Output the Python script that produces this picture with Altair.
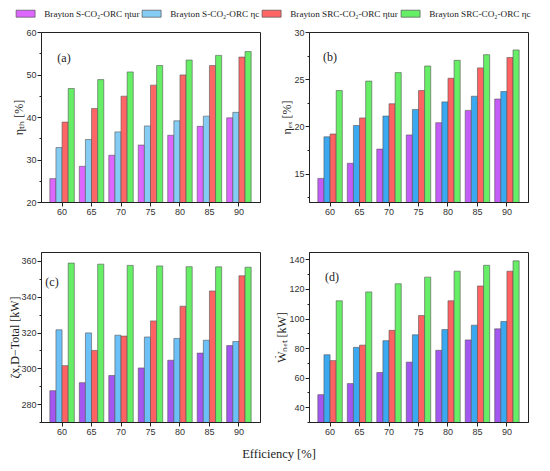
import altair as alt
import pandas as pd

eff = ["60", "65", "70", "75", "80", "85", "90"]
series = [
    "Brayton S-CO₂-ORC  ηtur",
    "Brayton S-CO₂-ORC  ηc",
    "Brayton SRC-CO₂-ORC  ηtur",
    "Brayton SRC-CO₂-ORC  ηc",
]

# (a) thermal efficiency [%]
a_s_tur = [25.5, 28.4, 31.0, 33.4, 35.7, 37.8, 39.8]
a_s_c = [32.8, 34.7, 36.5, 37.9, 39.1, 40.2, 41.1]
a_src_tur = [38.8, 42.0, 44.9, 47.5, 49.9, 52.1, 54.1]
a_src_c = [46.7, 48.8, 50.6, 52.1, 53.4, 54.5, 55.4]

# (b) exergy efficiency [%]
b_s_tur = [14.5, 16.1, 17.6, 19.1, 20.4, 21.7, 22.9]
b_s_c = [18.9, 20.1, 21.1, 21.8, 22.6, 23.2, 23.7]
b_src_tur = [19.2, 20.9, 22.4, 23.8, 25.1, 26.2, 27.3]
b_src_c = [23.8, 24.8, 25.7, 26.4, 27.0, 27.6, 28.1]

# (c) total exergy destruction [kW]
c_s_tur = [287.5, 292.0, 296.0, 300.2, 304.5, 308.5, 312.7]
c_s_c = [321.5, 319.8, 318.5, 317.5, 316.7, 315.7, 315.0]
c_src_tur = [301.5, 310.0, 318.0, 326.5, 334.7, 343.2, 351.7]
c_src_c = [358.8, 358.2, 357.5, 357.2, 356.8, 356.7, 356.5]

# (d) net power [kW]
d_s_tur = [48.5, 56.0, 63.5, 70.5, 78.5, 85.5, 93.0]
d_s_c = [75.5, 80.5, 85.0, 89.0, 92.5, 95.5, 98.0]
d_src_tur = [71.5, 82.0, 92.0, 102.0, 112.0, 122.0, 132.0]
d_src_c = [112.0, 118.0, 123.5, 128.0, 132.0, 136.0, 139.0]

# y ticks (major + minor) per panel
ticks_a = [20, 25, 30, 35, 40, 45, 50, 55, 60]
ticks_b = [12.5, 15, 17.5, 20, 22.5, 25, 27.5, 30]
ticks_c = [270, 280, 290, 300, 310, 320, 330, 340, 350, 360]
ticks_d = [30, 40, 50, 60, 70, 80, 90, 100, 110, 120, 130, 140]

colors_a = ["#dd66ff", "#85ccf5", "#ff6666", "#66ee66"]
colors_b = ["#c45cf7", "#3ba8f2", "#ff6262", "#66ee66"]
colors_c = ["#a357f0", "#6cc0f8", "#ff6262", "#66ee66"]
colors_d = ["#a357f0", "#3ba8f2", "#ff6262", "#66ee66"]

SERIF = "Liberation Serif"
SANS = "Liberation Sans"


def make_df(*vals):
    rows = []
    for s, v in zip(series, vals):
        for e, x in zip(eff, v):
            rows.append({"eff": e, "series": s, "value": x})
    return pd.DataFrame(rows)


def panel(df, colors, ytitle, domain, ticks, major, label, lx, ly, legend, tpad=0):
    test = f"datum.value % {major} === 0"
    bars = alt.Chart(df).mark_bar(stroke="#555555", strokeWidth=0.6, clip=True).encode(
        x=alt.X("eff:N", sort=eff,
                scale=alt.Scale(paddingInner=0.17, paddingOuter=0.3),
                axis=alt.Axis(title=None, labelAngle=0)),
        xOffset=alt.XOffset("series:N", sort=series,
                            scale=alt.Scale(domain=series, paddingInner=0, paddingOuter=0)),
        y=alt.Y("value:Q",
                scale=alt.Scale(domain=domain, nice=False, zero=False),
                axis=alt.Axis(values=ticks, title=ytitle, titlePadding=tpad,
                              labelExpr=f"{test} ? datum.label : ''",
                              tickSize={"condition": {"test": test, "value": 4},
                                        "value": 2})),
        color=alt.Color("series:N", scale=alt.Scale(domain=series, range=colors),
                        legend=legend),
    )
    txt = alt.Chart(pd.DataFrame({"t": [label]})).mark_text(
        font=SERIF, fontSize=12, align="center", baseline="middle", color="#222222"
    ).encode(x=alt.value(lx), y=alt.value(ly), text="t:N")
    return alt.layer(bars, txt).properties(width=219, height=170)


legend_a = alt.Legend(
    title=None, orient="none", legendX=-25, legendY=-23,
    direction="horizontal", columns=4,
    symbolType="M-4,-1.474H4V1.474H-4Z", symbolSize=22.56, symbolOffset=5,
    symbolStrokeColor="#555555", symbolStrokeWidth=0.7, symbolOpacity=1,
    labelFont=SERIF, labelFontSize=9.2, labelColor="#222222",
    labelLimit=300, columnPadding=-3, labelOffset=14,
)

pa = panel(make_df(a_s_tur, a_s_c, a_src_tur, a_src_c), colors_a, "ηₜₕ [%]",
           [20, 60], ticks_a, 10, "(a)", 23, 26, legend_a)
pb = panel(make_df(b_s_tur, b_s_c, b_src_tur, b_src_c), colors_b, "ηₑₓ [%]",
           [12, 30], ticks_b, 5, "(b)", 21, 25, None)
pc = panel(make_df(c_s_tur, c_s_c, c_src_tur, c_src_c), colors_c, "ζx,D−Total [kW]",
           [270, 365], ticks_c, 20, "(c)", 11, 30, None, tpad=-1)
pd_ = panel(make_df(d_s_tur, d_s_c, d_src_tur, d_src_c), colors_d, "Ẇₙₑₜ [kW]",
            [30, 145], ticks_d, 20, "(d)", 23, 25, None)

chart = alt.concat(pa, pb, pc, pd_, columns=2).properties(
    spacing={"row": 50, "column": 49},
    bounds="flush",
    autosize=alt.AutoSizeParams(type="none"),
    padding={"left": 33, "top": 24, "right": 501, "bottom": 431},
    title=alt.TitleParams("Efficiency [%]", orient="bottom", anchor="middle",
                          font=SERIF, fontSize=12.5, fontWeight="normal",
                          color="#222222", offset=11, dx=8),
).resolve_scale(color="independent").configure_view(
    stroke="#222222", strokeWidth=1
).configure_axis(
    grid=False, domainColor="#222222", tickColor="#222222", tickSize=4,
    labelFont=SANS, labelFontSize=9, labelColor="#333333", labelPadding=1,
    titleFont=SERIF, titleFontSize=12, titleFontWeight="normal",
    titleColor="#222222", titlePadding=0,
)

chart.save("out.html", embed_options={"renderer": "svg", "actions": False})
